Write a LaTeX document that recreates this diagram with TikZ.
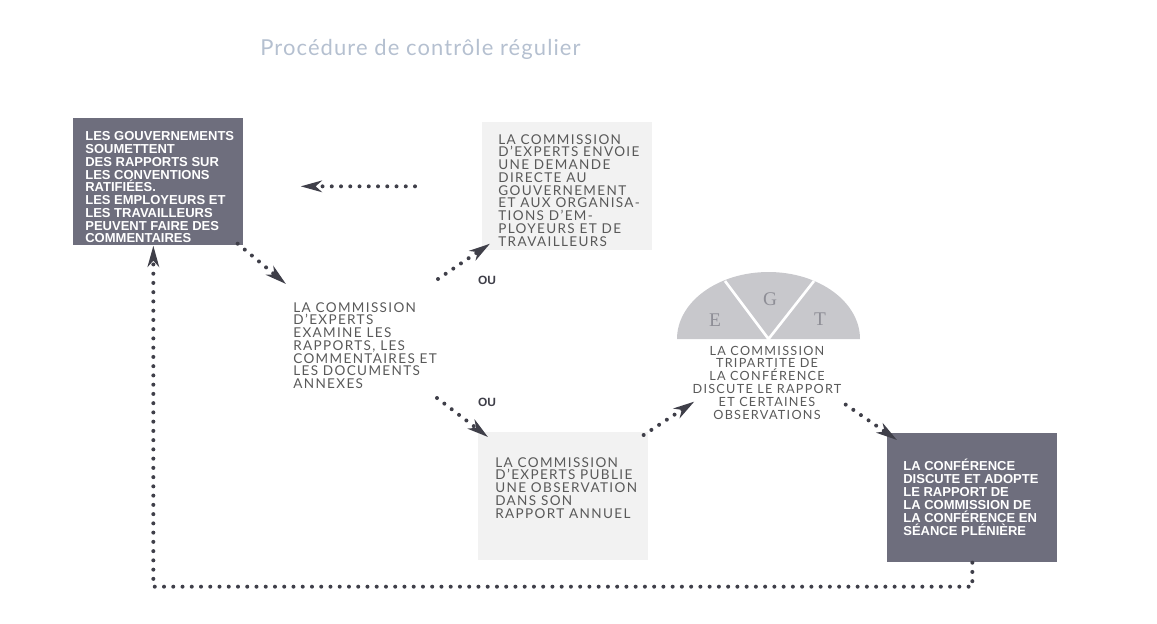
\documentclass[tikz,border=0pt]{standalone}
\usepackage{fontspec}
\setmainfont{Lato}
\newfontfamily\boxfont{Liberation Sans}
\newfontfamily\letterfont{Liberation Serif}
\usetikzlibrary{arrows.meta}

\definecolor{boxdark}{HTML}{6E6E7D}
\definecolor{boxlight}{HTML}{F2F2F2}
\definecolor{halfdisc}{HTML}{C8C8CC}
\definecolor{dotgray}{HTML}{3F3F49}
\definecolor{txtgray}{HTML}{595959}
\definecolor{titleblue}{HTML}{B5C0D0}
\definecolor{lettergray}{HTML}{8E8E96}

\tikzset{
  darkbox/.style={fill=boxdark, anchor=north west, inner sep=0pt, minimum width=3.4cm},
  lightbox/.style={fill=boxlight, anchor=north west, inner sep=0pt, minimum width=3.4cm},
  whitetxt/.style={text=white, font=\boxfont\bfseries\fontsize{7.4}{7.25}\selectfont, align=left, anchor=north west, inner sep=0pt},
  graytxt/.style={text=txtgray, font=\fontsize{7.7}{7.25}\selectfont\addfontfeatures{LetterSpace=10}, align=left, anchor=north west, inner sep=0pt},
  egtletter/.style={text=lettergray, font=\letterfont\fontsize{11}{12}\selectfont, inner sep=0pt},
  oulabel/.style={text=dotgray, font=\boxfont\bfseries\fontsize{6.8}{7}\selectfont, inner sep=0pt},
  dotarrow/.style={dotgray, line width=0.08cm, line cap=round, dash pattern=on 0pt off 0.185cm, -{Stealth[length=12pt,width=6.5pt,inset=3.5pt]}},
}

\begin{document}
\begin{tikzpicture}[x=0.02cm,y=-0.02cm]
    \useasboundingbox (0,0) rectangle (1157,623);
    \node[anchor=base west, text=titleblue, font=\fontsize{12.5}{14}\selectfont\addfontfeatures{LetterSpace=5}, inner sep=0pt] (titre) at (260,55) {Procédure de contrôle régulier};

    % boxes
    \node[darkbox, minimum height=2.54cm] (gouv) at (73,118) {};
    \node[lightbox, minimum height=2.56cm] (demande) at (482,122) {};
    \node[lightbox, minimum height=2.56cm] (publie) at (478,432) {};
    \node[darkbox, minimum height=2.58cm] (pleniere) at (887,433) {};

    % texts
    \node[whitetxt] (gouvtxt) at (85,131.5) {LES GOUVERNEMENTS\\SOUMETTENT\\DES RAPPORTS SUR\\LES CONVENTIONS\\RATIFIÉES.\\LES EMPLOYEURS ET\\LES TRAVAILLEURS\\PEUVENT FAIRE DES\\COMMENTAIRES};
    \node[graytxt] (demandetxt) at (498,134) {LA COMMISSION\\D’EXPERTS ENVOIE\\UNE DEMANDE\\DIRECTE AU\\GOUVERNEMENT\\ET AUX ORGANISA-\\TIONS D’EM-\\PLOYEURS ET DE\\TRAVAILLEURS};
    \node[graytxt] (examine) at (293,302) {LA COMMISSION\\D’EXPERTS\\EXAMINE LES\\RAPPORTS, LES\\COMMENTAIRES ET\\LES DOCUMENTS\\ANNEXES};
    \node[graytxt] (publietxt) at (495,457) {LA COMMISSION\\D’EXPERTS PUBLIE\\UNE OBSERVATION\\DANS SON\\RAPPORT ANNUEL};
    \node[whitetxt, font=\boxfont\bfseries\fontsize{7.4}{7.4}\selectfont] (plenieretxt) at (903,458.5) {LA CONFÉRENCE\\DISCUTE ET ADOPTE\\LE RAPPORT DE\\LA COMMISSION DE\\LA CONFÉRENCE EN\\SÉANCE PLÉNIÈRE};

    % tripartite half disc
    \coordinate (egt) at (768.5,339);
    \fill[halfdisc] (677,339) arc[start angle=180,end angle=360,x radius=91.5,y radius=67] -- cycle;
    \draw[white,line width=1.5pt] (725,281) -- (egt) -- (814,281);
    \node[egtletter] (lettreE) at (715,320) {E};
    \node[egtletter] (lettreG) at (770,299) {G};
    \node[egtletter] (lettreT) at (820,319) {T};
    \node[graytxt, font=\fontsize{7.2}{7.3}\selectfont\addfontfeatures{LetterSpace=10}, align=center, anchor=north] (tripartite) at (767,345.5) {LA COMMISSION\\TRIPARTITE DE\\LA CONFÉRENCE\\DISCUTE LE RAPPORT\\ET CERTAINES\\OBSERVATIONS};

    \node[oulabel] (ou1) at (487,280) {OU};
    \node[oulabel] (ou2) at (487,402) {OU};

    % connectors
    \draw[dotarrow] ([shift={(-67,0)}]demande.west) -- ([shift={(57,4.5)}]gouv.east);
    \draw[dotarrow] ([shift={(-6,-2)}]gouv.south east) -- ([shift={(-7,-18)}]examine.north west);
    \draw[dotarrow] ([shift={(145,-23)}]examine.north west) -- ([shift={(8,-7)}]demande.south west);
    \draw[dotarrow] ([shift={(144,96)}]examine.north west) -- ([shift={(10,5)}]publie.north west);
    \draw[dotarrow] ([shift={(-5,3)}]publie.north east) -- ([shift={(2,-18)}]tripartite.south west);
    \draw[dotarrow] ([shift={(4,-15)}]tripartite.south east) -- ([shift={(10,7)}]pleniere.north west);
    \draw[dotarrow] (pleniere.south) -- ++(0,24) -| ([shift={(-5,0)}]gouv.south);
\end{tikzpicture}
\end{document}
